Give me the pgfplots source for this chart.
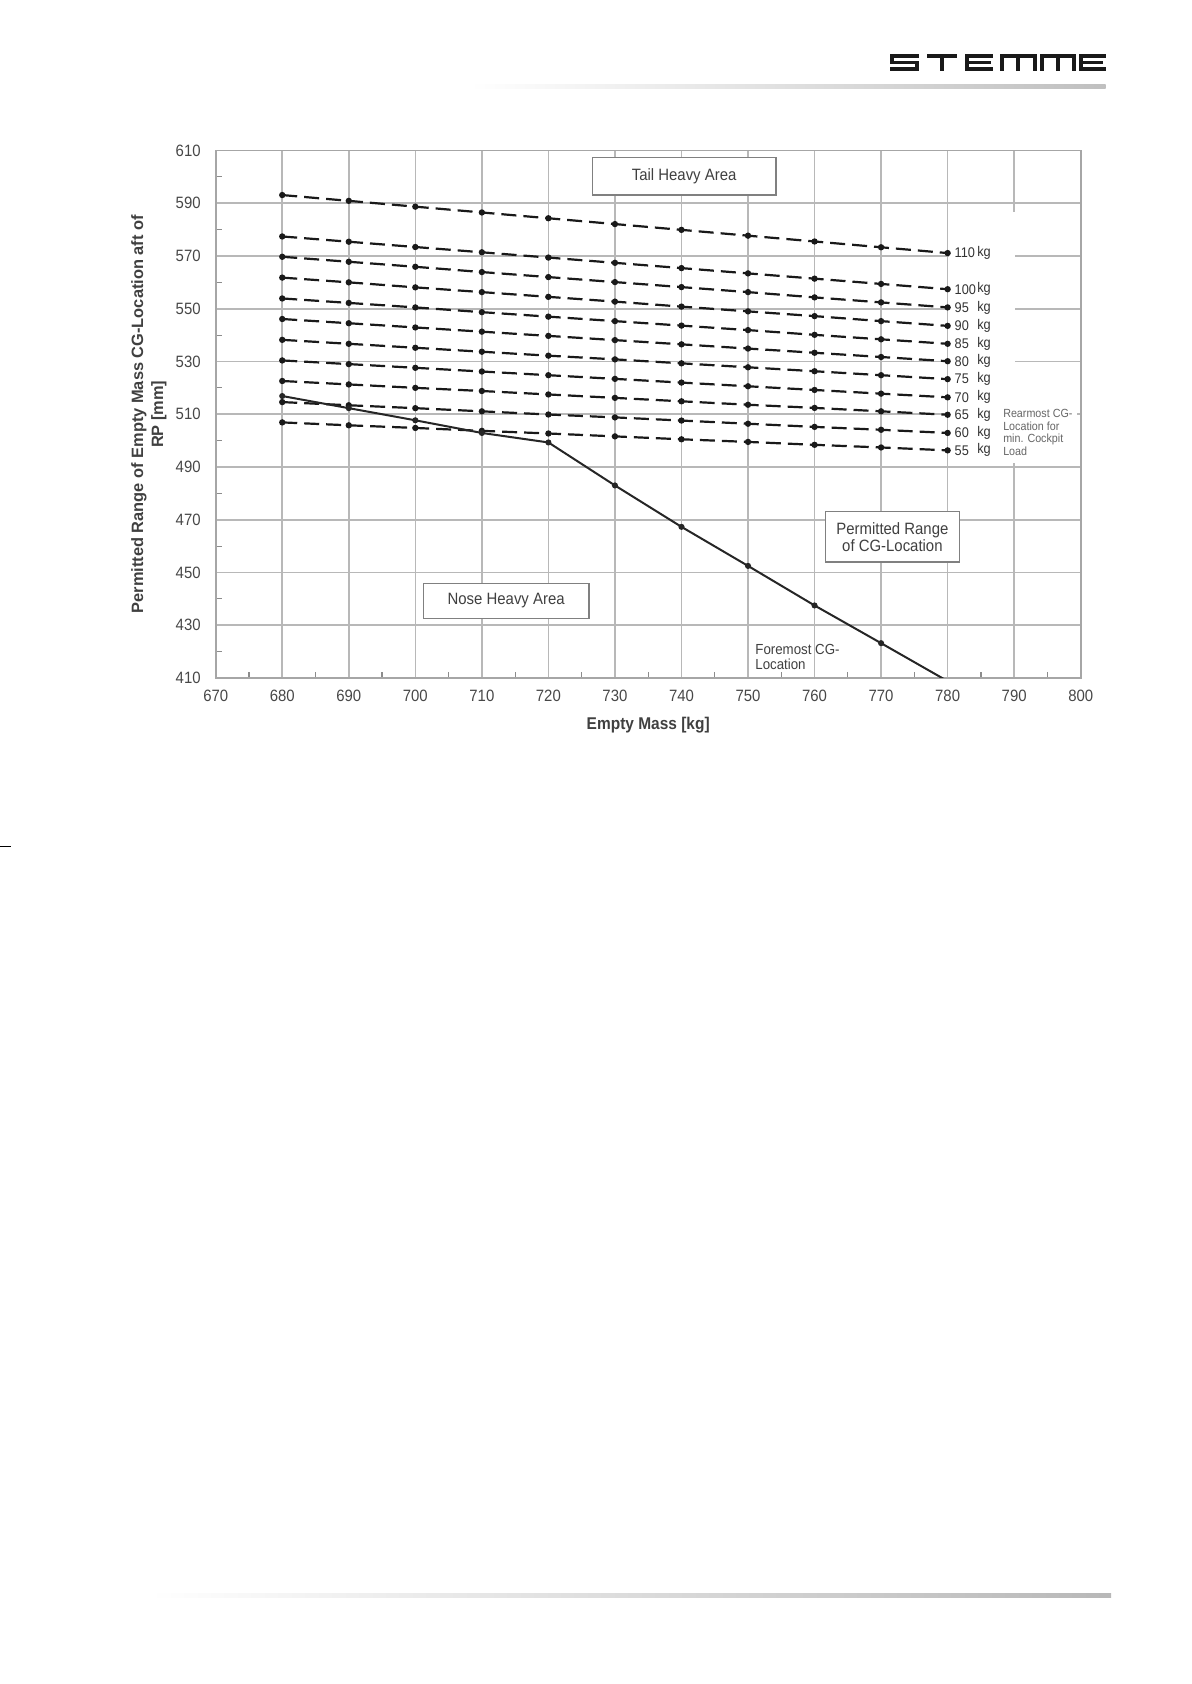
\documentclass[border=0pt]{standalone}
\usepackage{fontspec}
\setmainfont{Liberation Sans}[FakeStretch=0.91]
\newfontfamily\widefont{Liberation Sans}
\usepackage{pgfplots}
\pgfplotsset{compat=1.18}
\tikzset{
  dashline/.style={black!90, line width=1.1pt, dash pattern=on 7.5pt off 3.5pt, mark=*, mark size=1pt, mark options={solid}},
  lbl/.style={anchor=west, inner sep=0pt, font=\fontsize{7}{8}\selectfont, text=black!80},
  box/.style={draw=black!50, line width=0.6pt, fill=white},
  boxtxt/.style={font=\fontsize{8.2}{8.5}\selectfont, text=black!75, align=center},
}
\begin{document}
\begin{tikzpicture}
\path[use as bounding box] (0,0) rectangle (595.5pt,842pt);
\begin{scope}[x=0.5pt,y=-0.5pt,yshift=842pt]
% logo
\fill[black!90] (890,54) rectangle (919.3,58);
\fill[black!90] (890,54) rectangle (894,64.3);
\fill[black!90] (890,60.7) rectangle (919.3,64.3);
\fill[black!90] (915.3,60.7) rectangle (919.3,71);
\fill[black!90] (890,67) rectangle (919.3,71);
\fill[black!90] (926.7,54) rectangle (956.7,58);
\fill[black!90] (939.7,54) rectangle (943.7,71);
\fill[black!90] (965,54) rectangle (993.3,58);
\fill[black!90] (965,54) rectangle (969,71);
\fill[black!90] (965,60.7) rectangle (991,64.3);
\fill[black!90] (965,67) rectangle (993.3,71);
\fill[black!90] (1000,54) rectangle (1036.7,58);
\fill[black!90] (1000,54) rectangle (1004,71);
\fill[black!90] (1016.3,54) rectangle (1020.3,71);
\fill[black!90] (1032.7,54) rectangle (1036.7,71);
\fill[black!90] (1040,54) rectangle (1076,58);
\fill[black!90] (1040,54) rectangle (1044,71);
\fill[black!90] (1056,54) rectangle (1060,71);
\fill[black!90] (1072,54) rectangle (1076,71);
\fill[black!90] (1079,54) rectangle (1105.7,58);
\fill[black!90] (1079,54) rectangle (1083,71);
\fill[black!90] (1079,60.7) rectangle (1103,64.3);
\fill[black!90] (1079,67) rectangle (1105.7,71);
\shade[left color=white, right color=black!25] (470,85) rectangle (1105.7,89);
\shade[left color=white, right color=black!28] (150,1594) rectangle (1111,1598);
\draw[black, line width=0.5pt] (0,847) -- (11,847);
\end{scope}
\begin{axis}[name=ax, at={(107.85pt,503pt)}, anchor=south west,
  scale only axis, width=432.5pt, height=263.75pt,
  xmin=670, xmax=800, ymin=410, ymax=610,
  xtick={670,680,...,800}, ytick={410,430,...,610},
  minor x tick num=1, minor y tick num=1,
  tick pos=left,
  grid=major, major grid style={draw=black!28, line width=0.8pt},
  axis line style={draw=black!35, line width=0.8pt},
  major tick length=0pt, minor tick length=3pt,
  minor tick style={draw=black!45, line width=0.6pt},
  tick label style={font=\fontsize{8.2}{9}\selectfont, text=black!72},
  yticklabel style={xshift=-4pt},
  xticklabel style={yshift=-2.5pt},
  /pgf/number format/assume math mode=true,
  clip mode=individual,
]
\fill[white] (axis cs:780.2,491.6) rectangle (axis cs:790.15,586.7);
\fill[white] (axis cs:787.8,491.6) rectangle (axis cs:799.5,512.5);
% 110 kg
\addplot[dashline] coordinates {(680,593.1) (690,590.9) (700,588.7) (710,586.5) (720,584.3) (730,582.1) (740,579.9) (750,577.7) (760,575.5) (770,573.3) (780,571.1)};
% 100 kg
\addplot[dashline] coordinates {(680,577.4) (690,575.4) (700,573.4) (710,571.4) (720,569.4) (730,567.4) (740,565.4) (750,563.4) (760,561.4) (770,559.4) (780,557.4)};
% 95 kg
\addplot[dashline] coordinates {(680,569.7) (690,567.8) (700,565.9) (710,563.9) (720,562.0) (730,560.1) (740,558.2) (750,556.3) (760,554.3) (770,552.4) (780,550.5)};
% 90 kg
\addplot[dashline] coordinates {(680,561.8) (690,560.0) (700,558.1) (710,556.3) (720,554.5) (730,552.7) (740,550.8) (750,549.0) (760,547.2) (770,545.3) (780,543.5)};
% 85 kg
\addplot[dashline] coordinates {(680,553.9) (690,552.2) (700,550.5) (710,548.7) (720,547.0) (730,545.3) (740,543.6) (750,541.9) (760,540.1) (770,538.4) (780,536.7)};
% 80 kg
\addplot[dashline] coordinates {(680,546.1) (690,544.5) (700,542.9) (710,541.3) (720,539.7) (730,538.1) (740,536.5) (750,534.9) (760,533.3) (770,531.7) (780,530.1)};
% 75 kg
\addplot[dashline] coordinates {(680,538.2) (690,536.7) (700,535.2) (710,533.7) (720,532.2) (730,530.8) (740,529.3) (750,527.8) (760,526.3) (770,524.8) (780,523.3)};
% 70 kg
\addplot[dashline] coordinates {(680,530.4) (690,529.0) (700,527.6) (710,526.2) (720,524.8) (730,523.4) (740,522.0) (750,520.6) (760,519.2) (770,517.8) (780,516.4)};
% 65 kg
\addplot[dashline] coordinates {(680,522.6) (690,521.3) (700,520.0) (710,518.8) (720,517.5) (730,516.2) (740,514.9) (750,513.6) (760,512.4) (770,511.1) (780,509.8)};
% 60 kg
\addplot[dashline] coordinates {(680,514.6) (690,513.4) (700,512.3) (710,511.1) (720,509.9) (730,508.8) (740,507.6) (750,506.4) (760,505.2) (770,504.1) (780,502.9)};
% 55 kg
\addplot[dashline] coordinates {(680,506.9) (690,505.8) (700,504.8) (710,503.7) (720,502.7) (730,501.6) (740,500.5) (750,499.5) (760,498.4) (770,497.4) (780,496.3)};
% Foremost CG-Location
\addplot[black!85, line width=1pt, mark=*, mark size=1pt, mark indices={1,2,3,4,5,6,7,8,9,10}] coordinates {(680,516.9) (690,512.3) (700,507.7) (710,502.9) (720,499.3) (730,483.0) (740,467.3) (750,452.5) (760,437.5) (770,423.2) (780,408.8)};
% line labels
\node[lbl] at (axis cs:781.0,571.1) {110}; \node[lbl] at (axis cs:784.4,571.1) {kg};
\node[lbl] at (axis cs:781.0,557.4) {100}; \node[lbl] at (axis cs:784.4,557.4) {kg};
\node[lbl] at (axis cs:781.0,550.5) {95}; \node[lbl] at (axis cs:784.4,550.5) {kg};
\node[lbl] at (axis cs:781.0,543.5) {90}; \node[lbl] at (axis cs:784.4,543.5) {kg};
\node[lbl] at (axis cs:781.0,536.7) {85}; \node[lbl] at (axis cs:784.4,536.7) {kg};
\node[lbl] at (axis cs:781.0,530.1) {80}; \node[lbl] at (axis cs:784.4,530.1) {kg};
\node[lbl] at (axis cs:781.0,523.3) {75}; \node[lbl] at (axis cs:784.4,523.3) {kg};
\node[lbl] at (axis cs:781.0,516.4) {70}; \node[lbl] at (axis cs:784.4,516.4) {kg};
\node[lbl] at (axis cs:781.0,509.8) {65}; \node[lbl] at (axis cs:784.4,509.8) {kg};
\node[lbl] at (axis cs:781.0,502.9) {60}; \node[lbl] at (axis cs:784.4,502.9) {kg};
\node[lbl] at (axis cs:781.0,496.3) {55}; \node[lbl] at (axis cs:784.4,496.3) {kg};
\node[anchor=west, inner sep=0pt, align=left, font=\fontsize{5.9}{6.2}\selectfont, text=black!60] at (axis cs:788.3,503.1) {Rearmost CG-\\Location for\\min. Cockpit\\Load};
% boxes
\draw[box] (axis cs:726.6,607.4) rectangle (axis cs:754.2,593.1);
\node[boxtxt] at (axis cs:740.4,600.25) {Tail Heavy Area};
\draw[box] (axis cs:701.2,445.9) rectangle (axis cs:726.1,432.6);
\node[boxtxt] at (axis cs:713.65,439.25) {Nose Heavy Area};
\draw[box] (axis cs:761.7,473.05) rectangle (axis cs:781.75,454.0);
\node[boxtxt] at (axis cs:771.7,463.5) {Permitted Range\\of CG-Location};
\node[anchor=west, inner sep=0pt, align=left, font=\fontsize{7.3}{7.5}\selectfont, text=black!75] at (axis cs:751.05,418.15) {Foremost CG-\\Location};
\end{axis}
\node[rotate=90, align=center, font=\widefont\bfseries\fontsize{8.2}{10}\selectfont, text=black!75] at ([xshift=-33.4pt]ax.west) {Permitted Range of Empty Mass CG-Location aft of\\RP [mm]};
\node[font=\bfseries\fontsize{8.5}{10}\selectfont, text=black!75] at ([yshift=-23.5pt]ax.south) {Empty Mass [kg]};
\end{tikzpicture}
\end{document}
